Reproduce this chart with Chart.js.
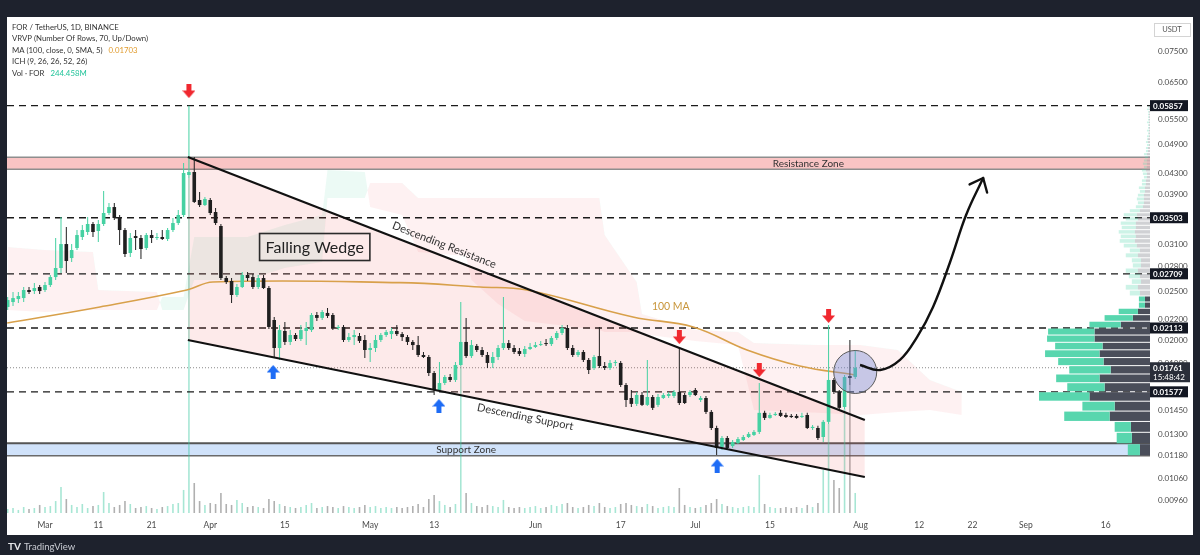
<!DOCTYPE html>
<html><head><meta charset="utf-8">
<script src="https://cdn.jsdelivr.net/npm/chart.js@4/dist/chart.umd.min.js"></script>
<style>html,body{margin:0;padding:0;background:#1e222d;overflow:hidden}canvas{display:block}</style>
</head><body><canvas id="c" width="1200" height="555"></canvas>
<script>
// ---------- DATA (days counted from 1 Mar 2024 = day 0) ----------
const startDay = -7; // 23 Feb
const opens = [0.02327,0.02380,0.02413,0.02424,0.02515,0.02503,0.02550,
0.02515,0.02573,0.02669,0.02782,0.03105,0.02912,0.03049,0.03207,0.03281,0.03404,0.03296,
0.03404,0.03580,0.03679,0.03515,0.03311,0.02980,0.03221,0.03192,0.03049,0.03236,
0.03192,0.03207,0.03178,0.03311,0.03419,0.03547,
0.04261,
0.04320,0.03800,0.03713,0.03800,0.03596,
0.03373,
0.02657,0.02621,0.02458,0.02550,0.02694,0.02669,0.02550,0.02657,0.02538,
0.02192,0.01928,0.02084,0.01982,0.02046,0.02009,0.02084,0.02093,
0.02243,0.02213,0.02264,0.02243,0.02113,0.02123,0.02000,0.02027,0.02037,0.02000,
0.01910,0.01928,0.02000,0.02046,0.02055,0.02084,0.02055,0.02027,0.01982,0.01954,0.01867,0.01850,
0.01719,0.01590,0.01642,0.01688,0.01665,
0.01783,
0.01982,0.01858,0.01946,0.01910,0.01867,0.01800,0.01850,0.01928,
0.01972,0.01928,0.01901,0.01876,0.01919,0.01937,0.01954,0.01972,0.01963,0.02018,0.02065,0.02113,0.01928,0.01867,
0.01893,0.01825,0.01759,0.01858,0.01775,0.01759,0.01800,0.01800,0.01627,0.01533,0.01492,0.01554,0.01485,0.01540,0.01485,0.01533,0.01547,0.01547,
0.01576,
0.01554,0.01554,0.01590,0.01519,0.01533,0.01438,0.01336,0.01225,0.01276,0.01230,0.01247,0.01264,0.01282,0.01294,
0.01312,
0.01432,0.01399,0.01418,0.01432,0.01418,0.01412,0.01412,0.01405,0.01418,0.01336,0.01336,
0.01282,0.01374,0.01665,0.01576,0.01471,0.01695,0.01688];
const highs = [0.02436,0.02492,0.02492,0.02550,0.02550,0.02597,0.02573,
0.02609,0.02694,0.03192,0.03515,0.03357,0.03105,0.03311,0.03388,0.03515,0.03435,0.03467,
0.03960,0.03748,0.03748,0.03547,0.03342,0.03266,0.03311,0.03236,0.03266,0.03311,
0.03266,0.03311,0.03342,0.03499,0.03629,0.04503,
0.05857,
0.04628,0.03942,0.03853,0.03835,0.03662,
0.03404,
0.02682,0.02657,0.02585,0.02731,0.02731,0.02706,0.02694,0.02694,0.02561,
0.02223,0.02142,0.02172,0.02093,0.02065,0.02142,0.02172,0.02264,
0.02274,0.02295,0.02316,0.02264,0.02142,0.02142,0.02065,0.02093,0.02065,0.02046,
0.01972,0.02046,0.02065,0.02093,0.02113,0.02142,0.02074,0.02046,0.02000,0.02037,0.01893,0.01867,
0.01735,0.01808,0.01703,0.01711,0.01808,
0.02380,
0.02213,0.02000,0.01963,0.01937,0.01893,0.01893,0.01954,0.02436,
0.02000,0.01954,0.01928,0.01946,0.01972,0.01982,0.01991,0.02009,0.02037,0.02084,0.02142,0.02142,0.01954,0.01910,
0.01910,0.01842,0.01867,0.02123,0.01808,0.01825,0.01825,0.01817,0.01642,0.01590,0.01576,0.01576,0.01825,0.01554,0.01561,0.01569,0.01576,0.01590,
0.01928,
0.01569,0.01590,0.01605,0.01547,0.01547,0.01451,0.01349,0.01288,0.01288,0.01264,0.01282,0.01294,0.01312,0.01324,
0.01642,
0.01445,0.01432,0.01438,0.01451,0.01432,0.01425,0.01425,0.01432,0.01432,0.01355,0.01349,
0.01386,0.02142,0.01680,0.01590,0.01703,0.02000,0.01910];
const lows = [0.02295,0.02337,0.02369,0.02380,0.02469,0.02469,0.02469,
0.02492,0.02550,0.02633,0.02719,0.02719,0.02860,0.03021,0.03163,0.03236,0.03207,0.03134,
0.03373,0.03547,0.03467,0.03091,0.02926,0.02926,0.03021,0.02899,0.03021,0.03120,
0.03163,0.03163,0.03149,0.03281,0.03388,0.03515,
0.04203,
0.03748,0.03679,0.03696,0.03547,0.03388,
0.02633,
0.02585,0.02369,0.02436,0.02538,0.02621,0.02526,0.02526,0.02526,0.02103,
0.01842,0.01825,0.01954,0.01954,0.01991,0.01991,0.01954,0.02074,
0.02182,0.02192,0.02213,0.02093,0.02093,0.01982,0.01982,0.01954,0.01972,0.01842,
0.01808,0.01893,0.01982,0.02027,0.02009,0.02037,0.01991,0.01954,0.01910,0.01850,0.01842,0.01695,
0.01554,0.01576,0.01627,0.01650,0.01650,
0.01775,
0.01842,0.01842,0.01893,0.01850,0.01759,0.01759,0.01825,0.01910,
0.01910,0.01876,0.01858,0.01850,0.01910,0.01928,0.01946,0.01946,0.01946,0.02000,0.02046,0.01910,0.01850,0.01850,
0.01808,0.01711,0.01743,0.01759,0.01743,0.01743,0.01775,0.01612,0.01471,0.01471,0.01478,0.01478,0.01478,0.01451,0.01471,0.01526,0.01533,0.01533,
0.01485,
0.01492,0.01540,0.01547,0.01505,0.01425,0.01324,0.01180,0.01208,0.01208,0.01219,0.01241,0.01258,0.01276,0.01288,
0.01300,
0.01386,0.01393,0.01412,0.01405,0.01399,0.01399,0.01393,0.01399,0.01330,0.01324,0.01264,
0.01253,0.01361,0.01561,0.01451,0.01458,0.01627,0.01672];
const closes = [0.02402,0.02424,0.02447,0.02515,0.02492,0.02538,0.02503,
0.02573,0.02669,0.02782,0.03105,0.02873,0.03021,0.03236,0.03311,0.03404,0.03281,0.03404,
0.03580,0.03679,0.03499,0.03311,0.02966,0.03192,0.03192,0.03035,0.03236,0.03192,
0.03207,0.03178,0.03311,0.03419,0.03547,0.04300,
0.04320,
0.03766,0.03713,0.03818,0.03580,0.03419,
0.02657,
0.02609,0.02458,0.02550,0.02694,0.02657,0.02550,0.02657,0.02538,0.02123,
0.01928,0.02093,0.01982,0.02046,0.02009,0.02093,0.02113,0.02243,
0.02213,0.02274,0.02233,0.02113,0.02123,0.02000,0.02027,0.02046,0.01991,0.01910,
0.01928,0.02000,0.02046,0.02074,0.02084,0.02055,0.02027,0.01982,0.01954,0.01867,0.01850,0.01719,
0.01590,0.01642,0.01688,0.01665,0.01783,
0.01982,
0.01858,0.01954,0.01910,0.01867,0.01800,0.01850,0.01928,0.01972,
0.01928,0.01893,0.01876,0.01919,0.01937,0.01954,0.01963,0.01963,0.02018,0.02065,0.02113,0.01928,0.01867,0.01893,
0.01825,0.01743,0.01850,0.01775,0.01759,0.01800,0.01808,0.01627,0.01519,0.01492,0.01554,0.01485,0.01540,0.01465,0.01540,0.01554,0.01561,0.01576,
0.01498,
0.01498,0.01576,0.01554,0.01533,0.01438,0.01336,0.01219,0.01276,0.01219,0.01253,0.01270,0.01282,0.01300,0.01312,
0.01432,
0.01399,0.01418,0.01425,0.01412,0.01405,0.01405,0.01399,0.01412,0.01336,0.01343,0.01276,
0.01374,0.01665,0.01576,0.01465,0.01688,0.01680,0.01761];
const volumes = [49,61,37,73,49,61,98,
73,85,146,317,171,98,73,110,61,85,98,
256,122,73,98,146,110,61,73,85,61,
49,73,85,110,122,281,
4087,
366,146,98,122,110,
244,
110,98,159,122,73,85,73,61,171,
146,110,85,73,61,73,98,122,
61,73,85,73,61,85,73,61,73,98,
73,85,61,73,61,73,61,73,85,110,73,171,
220,146,98,73,110,
1793,
244,122,85,73,98,85,73,159,
73,61,73,61,73,85,61,73,98,85,110,122,73,61,
73,98,85,122,73,61,73,110,122,98,85,73,110,85,61,73,85,73,
305,
98,73,61,73,98,122,171,110,85,73,61,73,85,73,
464,
110,73,61,61,73,61,73,61,98,73,122,
525,1086,403,305,1269,1562,244.458];

const maDays   = [-7.1, 10.3, 26.6, 31.5, 66.6, 81.6, 90.4, 110.3, 121.6, 131.7, 141.6, 152];
const maValues = [0.02162,0.02327,0.02515,0.02609,0.02601,0.02550,0.02515,0.02222,0.02123,0.01910,0.01775,0.01703];

const cloudDays = [-7,0,9,10,21,22,26,28,38,45,52,53,60,61,67,70,79,80,85,90,104,105,111,112,122,130,133,145,153,160,166,172];
const spanA = [0.02295,0.02274,0.02295,0.02295,0.02295,0.02436,0.02436,0.03207,0.03207,0.03388,0.03547,0.04360,0.04320,0.03679,0.03547,0.02993,0.02939,0.02633,0.02359,0.02182,0.02093,0.02074,0.02074,0.02055,0.01991,0.01954,0.01451,0.01432,0.01418,0.01438,0.01451,0.01418];
const spanB = [0.03063,0.03021,0.02993,0.02515,0.02492,0.02295,0.02295,0.02633,0.02633,0.02782,0.02860,0.03835,0.03835,0.04108,0.04108,0.03835,0.03835,0.03835,0.03835,0.03835,0.03835,0.03236,0.02609,0.02253,0.02093,0.02074,0.01972,0.01954,0.01954,0.01910,0.01665,0.01576];

const levels = [0.05857, 0.03503, 0.02709, 0.02113, 0.01577];
const currentPrice = 0.01761;
const countdown = '15:48:42';
const resistanceZone = [0.04374, 0.04622];
const supportZone = [0.01176, 0.01246];
const wedgeDays = [26.8, 153.8];
const resistanceLine = [0.04628, 0.01386];
const supportLine = [0.02000, 0.01067];

const downArrowDays = [27, 119, 134, 147];
const downArrowPrices = [0.06263, 0.02027, 0.01743, 0.02233];
const upArrowDays = [42.8, 73.9, 126.1];
const upArrowPrices = [0.01727, 0.01478, 0.01123];

const circleDay = 152, circlePrice = 0.01727;
const projDays = [152.9, 156.7, 160.4, 163.6, 166.6, 169.8, 172.8, 176.0];
const projValues = [0.01783, 0.01743, 0.01825, 0.02027, 0.02327, 0.02860, 0.03547, 0.04203];

const profileStart = 0.01176, profileStep = 0.000669, valueAreaRows = 19;
const profileUp = [120,150,160,450,320,500,370,430,410,450,540,470,470,460,310,280,190,60,60,
100,120,90,110,120,80,90,120,100,130,150,150,160,140,150,120,130,100,70,60,70,60,50,60,40,40,30,40,40,30,40,30,30,30,20,20,20,20,10,20,10,20,10,10,20,10,10,10,10,20,10];
const profileDown = [100,180,190,400,350,600,450,500,390,460,500,470,550,550,290,170,120,50,50,
100,120,90,100,120,90,90,120,100,130,150,140,150,140,140,120,130,100,70,60,60,60,50,50,40,40,30,30,40,30,30,30,20,30,20,20,10,20,20,10,10,10,10,10,10,10,10,10,10,10,10];

const xTickDays = [0, 10, 20, 31, 45, 61, 73, 92, 108, 122, 136, 153, 164, 174, 184, 199];
const xTickLabels = ['Mar','11','21','Apr','15','May','13','Jun','17','Jul','15','Aug','12','22','Sep','16'];
const yTicks = [0.075,0.065,0.055,0.049,0.043,0.039,0.031,0.028,0.025,0.022,0.020,0.018,0.0145,0.013,0.0118,0.0106,0.0096];

// ---------- CHART ----------
const X_MIN = -7.13, X_MAX = 207.3, Y_MIN = 0.009047, Y_MAX = 0.087935, VOL_MAX = 6050;
const UP = '#45d1a2', DN = '#1f1f1f';
const FONT = 'Lato, "Noto Sans", sans-serif';
Chart.defaults.font.family = FONT;

const days = opens.map((_, i) => startDay + i);
const isUp = opens.map((o, i) => closes[i] >= o);

function arrowImg(color, down) {
  const c = document.createElement('canvas'); c.width = 13; c.height = 14;
  const g = c.getContext('2d'); g.fillStyle = color; g.beginPath();
  if (down) { g.moveTo(4,0); g.lineTo(9,0); g.lineTo(9,6.5); g.lineTo(13,6.5); g.lineTo(6.5,14); g.lineTo(0,6.5); g.lineTo(4,6.5); }
  else { g.moveTo(6.5,0); g.lineTo(13,7.5); g.lineTo(9,7.5); g.lineTo(9,14); g.lineTo(4,14); g.lineTo(4,7.5); g.lineTo(0,7.5); }
  g.closePath(); g.fill(); return c;
}

const ds = [];
function add(d) { ds.push(d); return ds.length - 1; }
const line = (xs, ys) => xs.map((x, i) => ({x, y: ys[i]}));
const hline = v => [{x: X_MIN, y: v}, {x: X_MAX, y: v}];

add({type:'line', data: line(downArrowDays, downArrowPrices), showLine:false, pointStyle: arrowImg('#f0282f', true), pointRadius:6, order:0});
add({type:'line', data: line(upArrowDays, upArrowPrices), showLine:false, pointStyle: arrowImg('#1e6cf5', false), pointRadius:6, order:0});
add({type:'bubble', data:[{x: circleDay, y: circlePrice, r: 21.5}], backgroundColor:'rgba(118,138,212,0.40)', borderColor:'#5a5a5a', borderWidth:1, order:0.2});
const projIdx = add({type:'line', data: line(projDays, projValues), borderColor:'#111', borderWidth:2.4, pointRadius:0, tension:0.4, order:0.1});
add({type:'line', data: line(wedgeDays, resistanceLine), borderColor:'#111', borderWidth:2.2, pointRadius:0, order:0.5});
add({type:'line', data: line(wedgeDays, supportLine), borderColor:'#111', borderWidth:2.2, pointRadius:0, order:0.5});
add({type:'bar', data: days.map((d, i) => ({x: d, y: [opens[i], closes[i]]})), backgroundColor: isUp.map(u => u ? UP : DN), maxBarThickness:3.6, minBarLength:1, grouped:false, order:1});
add({type:'bar', data: days.map((d, i) => ({x: d, y: [lows[i], highs[i]]})), backgroundColor: isUp.map(u => u ? UP : DN), maxBarThickness:1, grouped:false, order:2});
add({type:'line', data: line(maDays, maValues), borderColor:'#d8a04a', borderWidth:1.6, pointRadius:0, tension:0.4, order:3});
// wedge fill
const wSup = add({type:'line', data: line(wedgeDays, supportLine), borderColor:'transparent', borderWidth:0, pointRadius:0, order:4.6});
add({type:'line', data: line(wedgeDays, resistanceLine), borderColor:'transparent', borderWidth:0, pointRadius:0, fill:{target: wSup}, backgroundColor:'rgba(242,80,80,0.12)', order:4.5});
levels.forEach(v => add({type:'line', data: hline(v), borderColor:'#1b1b1b', borderWidth:1.3, borderDash:[7,5], pointRadius:0, order:5}));
add({type:'line', data: hline(currentPrice), borderColor:'#8a8a8a', borderWidth:1, borderDash:[1,2], pointRadius:0, order:5});
add({type:'bar', yAxisID:'yVol', data: days.map((d, i) => ({x: d, y: volumes[i]})), backgroundColor: isUp.map(u => u ? 'rgba(60,200,160,0.45)' : 'rgba(80,80,80,0.45)'), maxBarThickness:1.6, grouped:false, order:7});
// zones
const rzB = add({type:'line', data: hline(resistanceZone[0]), borderColor:'#8e8e8e', borderWidth:1.5, pointRadius:0, order:8});
add({type:'line', data: hline(resistanceZone[1]), borderColor:'#8e8e8e', borderWidth:1.5, pointRadius:0, fill:{target: rzB}, backgroundColor:'rgba(240,100,100,0.38)', order:8.1});
const szB = add({type:'line', data: hline(supportZone[0]), borderColor:'#6a6a6a', borderWidth:1.5, pointRadius:0, order:8});
add({type:'line', data: hline(supportZone[1]), borderColor:'#555', borderWidth:2, pointRadius:0, fill:{target: szB}, backgroundColor:'rgba(150,190,245,0.45)', order:8.1});
// ichimoku cloud
const cB = add({type:'line', data: line(cloudDays, spanB), borderColor:'transparent', borderWidth:0, pointRadius:0, order:9});
add({type:'line', data: line(cloudDays, spanA), borderColor:'transparent', borderWidth:0, pointRadius:0, fill:{target: cB, above:'rgba(40,200,140,0.09)', below:'rgba(242,54,69,0.07)'}, order:9.1});

const P = (chart, d, p) => [chart.scales.x.getPixelForValue(d), chart.scales.y.getPixelForValue(p)];

const overlay = {
  id: 'overlay',
  beforeDraw(chart) {
    const c = chart.ctx; c.save();
    c.fillStyle = '#1e222d'; c.fillRect(0, 0, chart.width, chart.height);
    c.fillStyle = '#ffffff'; c.fillRect(7, 17, 1186, 518);
    c.restore();
  },
  afterDatasetsDraw(chart) {
    const c = chart.ctx, ys = chart.scales.y, a = chart.chartArea;
    c.save();
    // volume profile
    const totals = profileUp.map((u, i) => u + profileDown[i]);
    const s = 111 / Math.max(...totals);
    for (let k = 0; k < profileUp.length; k++) {
      const p0 = profileStart + k * profileStep, p1 = p0 + profileStep;
      const yT = ys.getPixelForValue(p1) + 0.5, yB = ys.getPixelForValue(p0) - 0.5;
      const inVA = k < valueAreaRows;
      const dw = profileDown[k] * s, uw = profileUp[k] * s;
      c.fillStyle = inVA ? '#4a4e5a' : 'rgba(150,153,160,0.45)';
      c.fillRect(a.right - dw, yT, dw, yB - yT);
      c.fillStyle = inVA ? '#58d6ae' : 'rgba(88,214,174,0.30)';
      c.fillRect(a.right - dw - uw, yT, uw, yB - yT);
    }
    // projection arrowhead
    const pts = chart.getDatasetMeta(projIdx).data;
    const tip = pts[pts.length - 1], prev = pts[pts.length - 2];
    let vx = prev.x - tip.x, vy = prev.y - tip.y; const L = Math.hypot(vx, vy); vx /= L; vy /= L;
    c.strokeStyle = '#111'; c.lineWidth = 2.4; c.lineCap = 'round';
    [40, -40].forEach(deg => {
      const r = deg * Math.PI / 180;
      const wx = vx * Math.cos(r) - vy * Math.sin(r), wy = vx * Math.sin(r) + vy * Math.cos(r);
      c.beginPath(); c.moveTo(tip.x, tip.y); c.lineTo(tip.x + wx * 15, tip.y + wy * 15); c.stroke();
    });
    // Falling Wedge box
    c.font = '16px ' + FONT; c.textAlign = 'center'; c.textBaseline = 'middle'; c.fillStyle = '#222';
    let [fx, fy] = P(chart, 50.6, 0.03063);
    const tw = c.measureText('Falling Wedge').width;
    c.lineWidth = 1.6; c.strokeStyle = '#2b2b2b';
    c.strokeRect(fx - tw / 2 - 6, fy - 13.5, tw + 12, 27);
    c.fillText('Falling Wedge', fx, fy + 1);
    // rotated wedge labels
    const rot = (txt, d, p, ys2) => {
      const [x1, y1] = P(chart, wedgeDays[0], ys2[0]), [x2, y2] = P(chart, wedgeDays[1], ys2[1]);
      const ang = Math.atan2(y2 - y1, x2 - x1);
      const [tx, ty] = P(chart, d, p);
      c.save(); c.translate(tx, ty); c.rotate(ang); c.font = '11px ' + FONT; c.fillStyle = '#333';
      c.fillText(txt, 0, 0); c.restore();
    };
    rot('Descending Resistance', 74.9, 0.03091, resistanceLine);
    rot('Descending Support', 90.1, 0.01405, supportLine);
    // other labels
    c.font = '10.5px ' + FONT; c.fillStyle = '#c8953a';
    let [mx, my] = P(chart, 117.4, 0.02327); c.fillText('100 MA', mx, my);
    c.font = '10px ' + FONT; c.fillStyle = '#333';
    let [rx, ry] = P(chart, 143.2, Math.sqrt(resistanceZone[0] * resistanceZone[1])); c.fillText('Resistance Zone', rx, ry);
    let [sx, sy] = P(chart, 79, Math.sqrt(supportZone[0] * supportZone[1])); c.fillText('Support Zone', sx, sy);
    c.restore();
  },
  afterDraw(chart) {
    const c = chart.ctx, ys = chart.scales.y, a = chart.chartArea;
    c.save();
    c.textBaseline = 'middle'; c.textAlign = 'left';
    // level boxes on price axis
    c.font = 'bold 8px ' + FONT;
    levels.forEach(v => {
      const y = ys.getPixelForValue(v);
      c.fillStyle = '#131722'; c.fillRect(a.right, y - 5.5, 38, 11);
      c.fillStyle = '#fff'; c.fillText(v.toFixed(5), a.right + 3, y + 0.5);
    });
    const cy = ys.getPixelForValue(currentPrice);
    c.fillStyle = '#2a2e39'; c.fillRect(a.right, cy - 5.5, 40, 20);
    c.fillStyle = '#fff'; c.fillText(currentPrice.toFixed(5), a.right + 3, cy + 0.5);
    c.font = '8px ' + FONT; c.fillText(countdown, a.right + 3, cy + 9.5);
    // USDT box
    c.fillStyle = '#fff'; c.strokeStyle = '#d4d4d4'; c.lineWidth = 1;
    c.fillRect(1154, 23, 36, 13); c.strokeRect(1154.5, 23.5, 36, 13);
    c.fillStyle = '#555'; c.font = '7.5px ' + FONT; c.textAlign = 'center'; c.fillText('USDT', 1172, 30);
    // legend
    c.textAlign = 'left'; c.font = '7.8px ' + FONT;
    const leg = [
      [['FOR / TetherUS, 1D, BINANCE', '#333']],
      [['VRVP (Number Of Rows, 70, Up/Down)', '#333']],
      [['MA (100, close, 0, SMA, 5)', '#333'], [maValues[maValues.length - 1].toFixed(5), '#e09b2d']],
      [['ICH (9, 26, 26, 52, 26)', '#333']],
      [['Vol · FOR', '#333'], [volumes[volumes.length - 1].toFixed(3) + 'M', '#22c49a']]
    ];
    leg.forEach((parts, i) => {
      let x = 12; const y = 27 + i * 11.5;
      parts.forEach(([t, col]) => { c.fillStyle = col; c.fillText(t, x, y); x += c.measureText(t).width + 6; });
    });
    // logo
    c.fillStyle = '#e8e9ec'; c.font = 'bold 10px ' + FONT; c.fillText('TV', 8, 547);
    c.fillStyle = '#c9ccd3'; c.font = '9.5px ' + FONT; c.fillText('TradingView', 24, 547);
    c.restore();
  }
};

new Chart(document.getElementById('c'), {
  type: 'bar',
  data: { datasets: ds },
  options: {
    responsive: false, animation: false, events: [],
    layout: { autoPadding: false, padding: { left: 7, top: 17, right: 0, bottom: 0 } },
    plugins: { legend: { display: false }, tooltip: { enabled: false } },
    elements: { point: { radius: 0 } },
    scales: {
      x: {
        type: 'linear', min: X_MIN, max: X_MAX, bounds: 'data', offset: false,
        grid: { display: false, drawTicks: false }, border: { display: false },
        afterBuildTicks: s => { s.ticks = xTickDays.map(v => ({ value: v })); },
        afterFit: s => { s.height = 42; },
        ticks: { autoSkip: false, maxRotation: 0, minRotation: 0, padding: 7, color: '#4a4a4a', font: { size: 8.5 },
          callback: v => { const i = xTickDays.indexOf(v); return i >= 0 ? xTickLabels[i] : ''; } }
      },
      y: {
        type: 'logarithmic', position: 'right', min: Y_MIN, max: Y_MAX, bounds: 'data',
        grid: { display: false, drawTicks: false }, border: { display: false },
        afterBuildTicks: s => { s.ticks = yTicks.map(v => ({ value: v })); },
        afterFit: s => { s.width = 50; },
        ticks: { autoSkip: false, padding: 8, color: '#4a4a4a', font: { size: 8 }, callback: v => Number(v).toFixed(5) }
      },
      yVol: { type: 'linear', display: false, min: 0, max: VOL_MAX, bounds: 'data' }
    }
  },
  plugins: [overlay]
});
</script>
</body></html>
